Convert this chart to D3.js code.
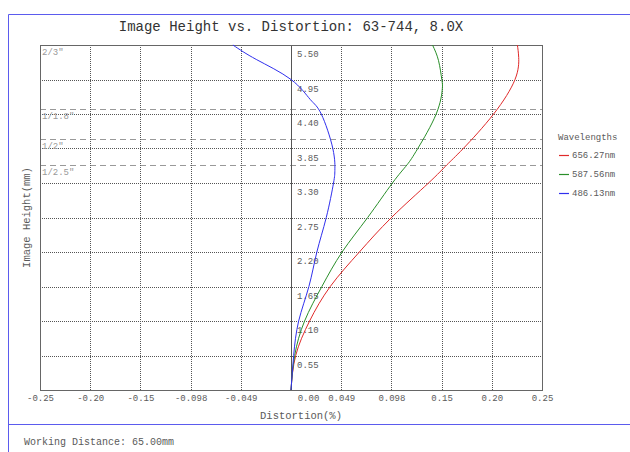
<!DOCTYPE html>
<html>
<head>
<meta charset="utf-8">
<script src="https://cdn.jsdelivr.net/npm/d3@7"></script>
<style>
  html, body { margin: 0; padding: 0; background: #fff; }
  svg { display: block; }
  text { font-family: "Liberation Mono", "Courier New", monospace; }
</style>
</head>
<body>
<svg id="chart" width="630" height="452"></svg>
<script>
// ---- data ----
const heights = {
  red:   [0, 0.55, 1.10, 1.65, 2.20, 2.75, 3.30, 3.59, 3.85, 4.40, 4.95, 5.30, 5.50],
  green: [0, 0.55, 1.10, 1.65, 2.20, 2.75, 3.30, 3.59, 3.85, 4.40, 4.80, 4.95, 5.25, 5.50],
  blue:  [0, 0.55, 1.10, 1.65, 2.20, 2.75, 3.30, 3.50, 3.85, 4.40, 4.63, 4.95, 5.27, 5.50]
};
const dist656 = [0, 0.0046, 0.0182, 0.0384, 0.0669, 0.0983, 0.1345, 0.1525, 0.1685, 0.1982, 0.2191, 0.2227, 0.2214];
const dist587 = [0, 0.0036, 0.0133, 0.0302, 0.0500, 0.0750, 0.0992, 0.1135, 0.1240, 0.1420, 0.1480, 0.1475, 0.1443, 0.1384];
const dist486 = [0, 0.0026, 0.0075, 0.0175, 0.0253, 0.0345, 0.0416, 0.0429, 0.0409, 0.0296, 0.0189, 0.0000, -0.0340, -0.0568];

const wavelengths = ["656.27nm", "587.56nm", "486.13nm"];
const colors = ["#e02a2a", "#2a8f2a", "#3030ee"];

const xTickValues = [-0.2455, -0.1964, -0.1473, -0.0982, -0.0491, 0, 0.0491, 0.0982, 0.1473, 0.1964, 0.2455];
const xTickLabels = ["-0.25", "-0.20", "-0.15", "-0.098", "-0.049", "0.00", "0.049", "0.098", "0.15", "0.20", "0.25"];
const yTickValues = [0.55, 1.10, 1.65, 2.20, 2.75, 3.30, 3.85, 4.40, 4.95, 5.50];
const yTickLabels = ["0.55", "1.10", "1.65", "2.20", "2.75", "3.30", "3.85", "4.40", "4.95", "5.50"];

const sensorNames = ["2/3\"", "1/1.8\"", "1/2\"", "1/2.5\""];
const sensorHeights = [5.50, 4.48, 4.00, 3.59];

const title = "Image Height vs. Distortion: 63-744, 8.0X";
const xTitle = "Distortion(%)";
const yTitle = "Image Height(mm)";
const footer = "Working Distance: 65.00mm";

// ---- layout ----
const svg = d3.select("#chart");
const L = 40, R = 542, T = 45, B = 390;
const x = d3.scaleLinear().domain([-0.2455, 0.2455]).range([L, R]);
const y = d3.scaleLinear().domain([0, 5.5]).range([B, T]);
const frameColor = "#5b5bee";
const gridColor = "#555";
const textColor = "#5a5a5a";

// outer frame lines
svg.append("line").attr("x1", 8.5).attr("x2", 630).attr("y1", 14.5).attr("y2", 14.5).attr("stroke", frameColor);
svg.append("line").attr("x1", 8.5).attr("x2", 8.5).attr("y1", 14.5).attr("y2", 452).attr("stroke", frameColor);
svg.append("line").attr("x1", 8.5).attr("x2", 630).attr("y1", 424.5).attr("y2", 424.5).attr("stroke", frameColor);

// title
svg.append("text").attr("x", 291).attr("y", 31).attr("text-anchor", "middle")
  .attr("font-size", 14).attr("fill", "#333").text(title);

const crisp = v => Math.round(v) + 0.5;

// sensor dashed lines
const g = svg.append("g");
sensorHeights.forEach((h, i) => {
  g.append("line").attr("x1", L).attr("x2", R).attr("y1", crisp(y(h))).attr("y2", crisp(y(h)))
    .attr("stroke", "#999").attr("stroke-dasharray", "6,4");
});

// vertical grid
xTickValues.forEach(v => {
  if (v === 0 || v === xTickValues[0] || v === xTickValues[xTickValues.length - 1]) return;
  g.append("line").attr("x1", crisp(x(v))).attr("x2", crisp(x(v))).attr("y1", T).attr("y2", B)
    .attr("stroke", gridColor).attr("stroke-dasharray", "1,1");
});
// horizontal grid
yTickValues.forEach(v => {
  g.append("line").attr("x1", L).attr("x2", R).attr("y1", crisp(y(v))).attr("y2", crisp(y(v)))
    .attr("stroke", gridColor).attr("stroke-dasharray", "1,1");
});
// zero axis
g.append("line").attr("x1", crisp(x(0))).attr("x2", crisp(x(0))).attr("y1", T).attr("y2", B)
  .attr("stroke", "#555");
// plot border
g.append("rect").attr("x", L + 0.5).attr("y", T + 0.5).attr("width", R - L).attr("height", B - T)
  .attr("fill", "none").attr("stroke", "#666");

// sensor labels
sensorHeights.forEach((h, i) => {
  svg.append("text").attr("x", 42).attr("y", y(h) + 10).attr("font-size", 9)
    .attr("fill", "#999").text(sensorNames[i]);
});

// x axis labels
const xAxis = d3.axisBottom(x).tickValues(xTickValues).tickSize(0).tickPadding(0)
  .tickFormat((d, i) => xTickLabels[i]);
const xg = svg.append("g").attr("transform", `translate(0,${B + 11})`).call(xAxis);
xg.select(".domain").remove();
xg.selectAll("text").attr("font-size", 9).attr("fill", textColor)
  .attr("font-family", "Liberation Mono, monospace").attr("dy", 0)
  .attr("dx", (d) => d === 0 ? 17 : 0);

// y axis labels inside plot
const yAxis = d3.axisRight(y).tickValues(yTickValues).tickSize(0).tickPadding(0)
  .tickFormat((d, i) => yTickLabels[i]);
const yg = svg.append("g").attr("transform", `translate(${x(0) + 6},11.5)`).call(yAxis);
yg.select(".domain").remove();
yg.selectAll("text").attr("font-size", 9).attr("fill", textColor)
  .attr("font-family", "Liberation Mono, monospace").attr("dy", 0);

// curves
const series = [
  { h: heights.red, d: dist656 },
  { h: heights.green, d: dist587 },
  { h: heights.blue, d: dist486 }
];
const line = d3.line().x(p => x(p[1])).y(p => y(p[0])).curve(d3.curveNatural);
series.forEach((s, i) => {
  const pts = s.h.map((h, k) => [h, s.d[k]]);
  svg.append("path").attr("d", line(pts)).attr("fill", "none")
    .attr("stroke", colors[i]).attr("stroke-width", 1);
});

// axis titles
svg.append("text").attr("x", 301).attr("y", 419).attr("text-anchor", "middle")
  .attr("font-size", 10.5).attr("fill", textColor).text(xTitle);
svg.append("text").attr("transform", `translate(30,${(T + B) / 2}) rotate(-90)`)
  .attr("text-anchor", "middle").attr("font-size", 10.5).attr("fill", textColor).text(yTitle);

// legend
svg.append("text").attr("x", 558).attr("y", 140).attr("font-size", 9).attr("fill", textColor).text("Wavelengths");
wavelengths.forEach((w, i) => {
  const yy = 155 + i * 19;
  svg.append("line").attr("x1", 559).attr("x2", 569).attr("y1", yy + 0.5).attr("y2", yy + 0.5)
    .attr("stroke", colors[i]).attr("stroke-width", 1.2);
  svg.append("text").attr("x", 572).attr("y", yy + 3).attr("font-size", 9).attr("fill", textColor).text(w);
});

// footer
svg.append("text").attr("x", 24).attr("y", 445).attr("font-size", 10).attr("fill", textColor).text(footer);
</script>
</body>
</html>
